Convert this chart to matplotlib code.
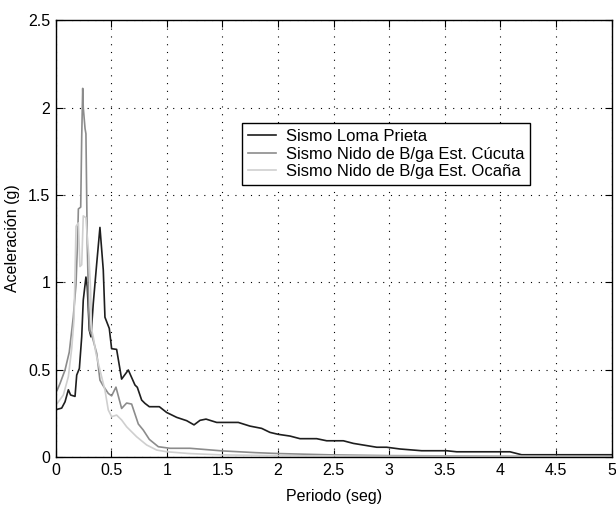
import matplotlib
matplotlib.use("Agg")
import matplotlib.pyplot as plt
import numpy as np

plt.rcParams['font.family'] = ['Liberation Sans', 'DejaVu Sans']

# Sismo Loma Prieta
t_loma = [0.0, 0.014, 0.054, 0.084, 0.114, 0.134, 0.174, 0.189, 0.213, 0.234, 0.248, 0.272,
          0.284, 0.302, 0.317, 0.338, 0.369, 0.398, 0.428, 0.443, 0.482, 0.503, 0.548,
          0.593, 0.653, 0.713, 0.734, 0.773, 0.803, 0.842, 0.932, 0.998, 1.088, 1.178,
          1.244, 1.298, 1.352, 1.448, 1.642, 1.747, 1.852, 1.927, 2.0, 2.107, 2.197,
          2.347, 2.437, 2.587, 2.677, 2.887, 2.977, 3.096, 3.291, 3.516, 3.606, 4.085,
          4.19, 5.0]
a_loma = [0.27, 0.273, 0.28, 0.316, 0.385, 0.355, 0.347, 0.469, 0.507, 0.688, 0.898, 1.03,
          0.974, 0.726, 0.688, 0.879, 1.108, 1.314, 1.07, 0.80, 0.736, 0.62, 0.616,
          0.446, 0.498, 0.412, 0.399, 0.326, 0.307, 0.288, 0.288, 0.255, 0.227, 0.208,
          0.184, 0.210, 0.217, 0.198, 0.198, 0.177, 0.164, 0.141, 0.130, 0.120, 0.105,
          0.105, 0.093, 0.093, 0.078, 0.056, 0.056, 0.046, 0.036, 0.036, 0.030, 0.030,
          0.013, 0.013]

# Sismo Nido de B/ga Est. Cúcuta
t_cuc = [0.0, 0.014, 0.039, 0.084, 0.122, 0.158, 0.183, 0.198, 0.204, 0.225, 0.234, 0.243,
         0.248, 0.264, 0.272, 0.284, 0.297, 0.308, 0.324, 0.369, 0.398, 0.423, 0.473,
         0.503, 0.542, 0.593, 0.638, 0.683, 0.743, 0.788, 0.842, 0.923, 1.028, 1.208,
         1.5, 1.8, 2.0, 2.5, 3.0, 4.0, 4.3, 5.0]
a_cuc = [0.37, 0.383, 0.421, 0.498, 0.60, 0.80, 0.99, 1.26, 1.42, 1.43, 1.83, 2.11,
         2.0, 1.88, 1.85, 1.22, 0.84, 0.72, 0.70, 0.593, 0.44, 0.412, 0.364,
         0.350, 0.400, 0.278, 0.309, 0.303, 0.189, 0.154, 0.101, 0.059, 0.050, 0.050,
         0.035, 0.025, 0.020, 0.012, 0.008, 0.005, 0.004, 0.002]

# Sismo Nido de B/ga Est. Ocaña
t_oca = [0.0, 0.014, 0.069, 0.114, 0.144, 0.165, 0.183, 0.204, 0.218, 0.234, 0.248, 0.272,
         0.284, 0.299, 0.314, 0.323, 0.338, 0.362, 0.398, 0.443, 0.473, 0.503, 0.548,
         0.593, 0.638, 0.728, 0.818, 0.908, 1.0, 1.2, 1.5, 2.0, 3.0, 5.0]
a_oca = [0.30, 0.307, 0.355, 0.46, 0.62, 0.79, 1.32, 1.34, 1.09, 1.10, 1.38, 1.37,
         1.26, 1.146, 0.955, 0.727, 0.688, 0.593, 0.498, 0.383, 0.269, 0.231, 0.240,
         0.212, 0.173, 0.116, 0.069, 0.040, 0.030, 0.020, 0.012, 0.008, 0.004, 0.002]

labels = ['Sismo Loma Prieta', 'Sismo Nido de B/ga Est. Cúcuta', 'Sismo Nido de B/ga Est. Ocaña']
colors = ['#1e1e1e', '#8c8c8c', '#cfcfcf']

xticks = [0, 0.5, 1, 1.5, 2, 2.5, 3, 3.5, 4, 4.5, 5]
xticklabels = ['0', '0.5', '1', '1.5', '2', '2.5', '3', '3.5', '4', '4.5', '5']
yticks = [0, 0.5, 1, 1.5, 2, 2.5]
yticklabels = ['0', '0.5', '1', '1.5', '2', '2.5']

fig = plt.figure(figsize=(6.16, 5.05), dpi=100)
ax = fig.add_axes([0.0904, 0.095, 0.9026, 0.865])

for t, a, lab, c in zip([t_loma, t_cuc, t_oca], [a_loma, a_cuc, a_oca], labels, colors):
    ax.plot(t, a, color=c, lw=1.2, label=lab)

ax.set_xlim(0, 5)
ax.set_ylim(0, 2.5)
ax.set_xticks(xticks)
ax.set_xticklabels(xticklabels)
ax.set_yticks(yticks)
ax.set_yticklabels(yticklabels)
ax.grid(True, color='black', linestyle=(0, (1, 6)), linewidth=0.8)
ax.tick_params(direction='in', length=5, width=0.8, top=True, right=True, labelsize=11.5, pad=4)
for s in ax.spines.values():
    s.set_linewidth(1.0)
ax.set_xlabel('Periodo (seg)', fontsize=11.5, labelpad=8)
ax.set_ylabel('Aceleración (g)', fontsize=11.5, labelpad=6)

leg = ax.legend(loc='lower left', bbox_to_anchor=(0.3345, 0.6224), fontsize=12,
                fancybox=False, edgecolor='black', framealpha=1, handlelength=1.7,
                borderpad=0.35, labelspacing=0.15, handletextpad=0.6, borderaxespad=0)
leg.get_frame().set_linewidth(1.0)

fig.savefig('out.png', dpi=100)
